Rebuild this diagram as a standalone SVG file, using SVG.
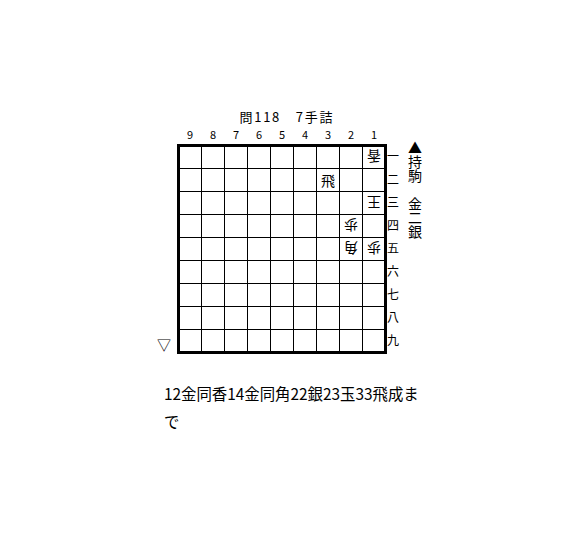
<svg xmlns="http://www.w3.org/2000/svg" width="577" height="553" viewBox="0 0 577 553">
<style>
text{font-family:"Noto Sans CJK JP","Noto Sans",sans-serif;fill:#000}
.t{font-size:13px;text-anchor:middle}
.n{font-size:11px;text-anchor:middle}
.r{font-size:12px;text-anchor:middle}
.p{font-size:14px;text-anchor:middle;dominant-baseline:central}
.g line{stroke:#000;stroke-width:1}
.m{font-size:15.4px}
.v{font-size:14px;writing-mode:vertical-rl}
</style>
<rect width="577" height="553" fill="#fff"/>
<g id="title"><text class="t" x="286" y="122" textLength="93" lengthAdjust="spacing">問118　7手詰</text></g>
<g id="cols">
<text class="n" x="190" y="139">9</text><text class="n" x="213" y="139">8</text><text class="n" x="236" y="139">7</text>
<text class="n" x="259" y="139">6</text><text class="n" x="282" y="139">5</text><text class="n" x="305" y="139">4</text>
<text class="n" x="328" y="139">3</text><text class="n" x="351" y="139">2</text><text class="n" x="374" y="139">1</text>
</g>
<g id="board" class="g">
<line x1="201.5" y1="145" x2="201.5" y2="352"/><line x1="224.5" y1="145" x2="224.5" y2="352"/>
<line x1="247.5" y1="145" x2="247.5" y2="352"/><line x1="270.5" y1="145" x2="270.5" y2="352"/>
<line x1="293.5" y1="145" x2="293.5" y2="352"/><line x1="316.5" y1="145" x2="316.5" y2="352"/>
<line x1="339.5" y1="145" x2="339.5" y2="352"/><line x1="362.5" y1="145" x2="362.5" y2="352"/>
<line x1="178" y1="168.5" x2="385" y2="168.5"/><line x1="178" y1="191.5" x2="385" y2="191.5"/>
<line x1="178" y1="214.5" x2="385" y2="214.5"/><line x1="178" y1="237.5" x2="385" y2="237.5"/>
<line x1="178" y1="260.5" x2="385" y2="260.5"/><line x1="178" y1="283.5" x2="385" y2="283.5"/>
<line x1="178" y1="306.5" x2="385" y2="306.5"/><line x1="178" y1="329.5" x2="385" y2="329.5"/>
<rect x="178.5" y="145.5" width="207" height="207" fill="none" stroke="#000" stroke-width="3"/>
</g>
<g id="rows">
<text class="r" x="393" y="161">一</text><text class="r" x="393" y="184">二</text><text class="r" x="393" y="207">三</text>
<text class="r" x="393" y="230">四</text><text class="r" x="393" y="253">五</text><text class="r" x="393" y="276">六</text>
<text class="r" x="393" y="299">七</text><text class="r" x="393" y="322">八</text><text class="r" x="393" y="345">九</text>
</g>
<g id="pieces">
<text class="p" x="328" y="180">飛</text>
<text class="p" transform="rotate(180 374 157)" x="374" y="157">香</text>
<text class="p" transform="rotate(180 374 203)" x="374" y="203">王</text>
<text class="p" transform="rotate(180 351 226)" x="351" y="226">歩</text>
<text class="p" transform="rotate(180 351 249)" x="351" y="249">角</text>
<text class="p" transform="rotate(180 374 249)" x="374" y="249">歩</text>
</g>
<g id="hand">
<text class="v" x="415" y="141">▲持駒　金二銀</text>
</g>
<g id="gote"><text class="p" x="164" y="344">▽</text></g>
<g id="answer">
<text class="m" x="164" y="400">12金同香14金同角22銀23玉33飛成ま</text>
<text class="m" x="164" y="428">で</text>
</g>
</svg>
